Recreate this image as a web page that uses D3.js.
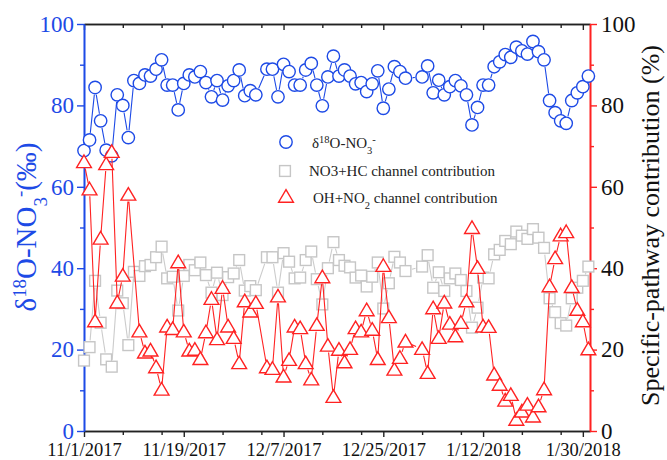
<!DOCTYPE html>
<html>
<head>
<meta charset="utf-8">
<script src="https://cdn.jsdelivr.net/npm/d3@7"></script>
<style>
  body { margin: 0; background: #fff; }
  svg { display: block; font-family: "Liberation Serif", "Times New Roman", serif; }
</style>
</head>
<body>
<svg id="chart" width="667" height="460"></svg>
<script>
// sample days (12/3, 12/30 and 12/31 have no sample)
const sampleDates = [
  "2017-11-01", "2017-11-02", "2017-11-03", "2017-11-04", "2017-11-05", "2017-11-06",
  "2017-11-07", "2017-11-08", "2017-11-09", "2017-11-10", "2017-11-11", "2017-11-12",
  "2017-11-13", "2017-11-14", "2017-11-15", "2017-11-16", "2017-11-17", "2017-11-18",
  "2017-11-19", "2017-11-20", "2017-11-21", "2017-11-22", "2017-11-23", "2017-11-24",
  "2017-11-25", "2017-11-26", "2017-11-27", "2017-11-28", "2017-11-29", "2017-11-30",
  "2017-12-01", "2017-12-02", "2017-12-04", "2017-12-05", "2017-12-06", "2017-12-07",
  "2017-12-08", "2017-12-09", "2017-12-10", "2017-12-11", "2017-12-12", "2017-12-13",
  "2017-12-14", "2017-12-15", "2017-12-16", "2017-12-17", "2017-12-18", "2017-12-19",
  "2017-12-20", "2017-12-21", "2017-12-22", "2017-12-23", "2017-12-24", "2017-12-25",
  "2017-12-26", "2017-12-27", "2017-12-28", "2017-12-29",
  "2018-01-01", "2018-01-02", "2018-01-03", "2018-01-04", "2018-01-05", "2018-01-06",
  "2018-01-07", "2018-01-08", "2018-01-09", "2018-01-10", "2018-01-11", "2018-01-12",
  "2018-01-13", "2018-01-14", "2018-01-15", "2018-01-16", "2018-01-17", "2018-01-18",
  "2018-01-19", "2018-01-20", "2018-01-21", "2018-01-22", "2018-01-23", "2018-01-24",
  "2018-01-25", "2018-01-26", "2018-01-27", "2018-01-28", "2018-01-29", "2018-01-30",
  "2018-01-31",
];

// δ18O-NO3- (‰), left axis
const d18O = [
  68.9, 71.5, 84.4, 76.2, 69.0, 67.6, 82.6, 80.0, 72.1, 86.1, 85.4, 87.5, 87.2, 88.9, 91.2,
  85.0, 85.0, 78.9, 85.4, 87.5, 87.0, 88.3, 85.6, 82.1, 86.1, 81.3, 84.8, 86.1, 88.7, 82.4,
  83.6, 82.6, 88.9, 88.9, 82.1, 90.1, 88.3, 85.0, 85.0, 88.7, 90.3, 85.0, 79.9, 87.0, 92.1,
  87.2, 88.7, 87.2, 85.3, 85.6, 83.4, 85.3, 88.5, 79.3, 84.0, 89.5, 88.3, 86.7,
  87.0, 89.7, 83.1, 86.2, 82.6, 84.6, 86.1, 84.8, 82.6, 75.2, 79.5, 85.0, 85.0, 89.5, 90.7,
  92.5, 91.8, 94.3, 93.4, 92.6, 95.7, 93.2, 91.2, 81.2, 78.2, 76.2, 75.6, 81.2, 83.1, 84.6,
  87.2,
];

// NO3+HC channel contribution (%), right axis
const no3hcShare = [
  17.3, 20.6, 36.9, 26.6, 17.6, 15.8, 34.5, 31.4, 21.1, 39.1, 38.1, 40.5, 40.8, 42.7, 45.3,
  37.5, 37.9, 29.6, 38.1, 40.8, 39.5, 41.4, 38.3, 34.0, 38.9, 33.4, 37.8, 38.7, 42.0, 34.5,
  35.6, 34.6, 42.7, 42.7, 34.0, 43.7, 41.6, 37.5, 37.7, 42.0, 44.1, 37.3, 31.1, 40.0, 46.4,
  42.0, 40.6, 40.2, 37.7, 38.2, 35.5, 37.9, 41.4, 30.1, 36.3, 42.8, 41.4, 39.3,
  40.4, 43.2, 35.2, 39.0, 34.4, 37.5, 38.7, 37.1, 34.4, 25.4, 30.3, 37.7, 37.5, 43.4, 44.5,
  46.7, 45.9, 49.0, 48.0, 47.2, 49.6, 47.5, 45.0, 32.6, 29.2, 26.5, 25.9, 32.6, 35.2, 36.9,
  40.4,
];

// OH+NO2 channel contribution (%), right axis
const ohno2Share = [
  66.0, 59.3, 26.9, 47.2, 65.5, 68.5, 31.5, 38.1, 58.0, null, 24.4, 19.2, 19.7, 15.6, 10.1,
  25.6, 25.0, 41.4, 24.4, 19.7, 19.9, 17.6, 24.2, 32.4, 22.5, 35.1, 25.6, 22.8, 16.6, 31.8,
  29.3, 31.4, 15.6, 15.2, 33.0, 13.3, 17.4, 25.6, 25.2, 16.6, 12.6, 26.0, 37.7, 20.9, 8.3,
  19.9, 16.8, 20.1, 25.2, 24.4, 29.6, 24.8, 17.6, 40.5, 27.9, 15.0, 17.9, 21.9,
  20.1, 14.2, 30.1, 22.8, 31.5, 26.3, 23.2, 26.5, 31.8, 49.8, 40.0, 25.6, 25.5, 13.8, 11.3,
  7.4, 8.8, 2.7, 4.7, 6.4, 3.5, 6.0, 10.2, 35.5, 42.4, 48.0, 48.8, 35.3, 29.7, 26.9,
  20.0,
];

const xTickDates = ["2017-11-01", "2017-11-19", "2017-12-07", "2017-12-25", "2018-01-12", "2018-01-30"];
const xTickLabels = ["11/1/2017", "11/19/2017", "12/7/2017", "12/25/2017", "1/12/2018", "1/30/2018"];
const xMinorDates = [
  "2017-11-08", "2017-11-15", "2017-11-26", "2017-12-03", "2017-12-14",
  "2017-12-21", "2018-01-01", "2018-01-08", "2018-01-19", "2018-01-26",
];
const yTicks = [0, 20, 40, 60, 80, 100];
const yMinorTicks = [10, 30, 50, 70, 90];

const BLUE = "#1d4ae6";
const RED = "#ff2222";
const GRAY = "#c6c6c6";

const margin = { top: 24, right: 77, bottom: 29, left: 84 };
const width = 667;
const height = 460;

const parseDate = d3.utcParse("%Y-%m-%d");
const svg = d3.select("#chart");

const x = d3
  .scaleUtc()
  .domain([parseDate("2017-11-01"), new Date(Date.UTC(2018, 0, 31, 7))])
  .range([margin.left, width - margin.right]);
const yLeft = d3.scaleLinear().domain([0, 100]).range([height - margin.bottom, margin.top]);
const yRight = d3.scaleLinear().domain([0, 100]).range([height - margin.bottom, margin.top]);

const plotBottom = height - margin.bottom;
const plotTop = margin.top;

function styleAxis(g, color, fontSize) {
  g.select(".domain").attr("stroke", color).attr("stroke-width", 1.6);
  g.selectAll(".tick line").attr("stroke", color).attr("stroke-width", 1.4);
  g.selectAll(".tick text").attr("font-size", fontSize).attr("font-family", "Liberation Serif");
}

// bottom axis
const bottomMinor = svg
  .append("g")
  .attr("transform", `translate(0,${plotBottom})`)
  .call(d3.axisBottom(x).tickValues(xMinorDates.map(parseDate)).tickSize(4).tickSizeOuter(0).tickFormat(""));
styleAxis(bottomMinor, "#222", 18);

const bottomAxis = svg
  .append("g")
  .attr("transform", `translate(0,${plotBottom})`)
  .call(
    d3
      .axisBottom(x)
      .tickValues(xTickDates.map(parseDate))
      .tickSize(6)
      .tickSizeOuter(0)
      .tickPadding(6)
      .tickFormat((d, i) => xTickLabels[i]),
  );
styleAxis(bottomAxis, "#222", 18.5);
bottomAxis.selectAll(".tick text").attr("fill", "#111");

// top axis, ticks pointing into the plot
const topMinor = svg
  .append("g")
  .attr("transform", `translate(0,${plotTop})`)
  .call(d3.axisBottom(x).tickValues(xMinorDates.map(parseDate)).tickSize(4).tickSizeOuter(0).tickFormat(""));
styleAxis(topMinor, "#222", 18);
const topMajor = svg
  .append("g")
  .attr("transform", `translate(0,${plotTop})`)
  .call(d3.axisBottom(x).tickValues(xTickDates.map(parseDate)).tickSize(6).tickSizeOuter(0).tickFormat(""));
styleAxis(topMajor, "#222", 18);

// left axis (blue)
const leftMinor = svg
  .append("g")
  .attr("transform", `translate(${margin.left},0)`)
  .call(d3.axisLeft(yLeft).tickValues(yMinorTicks).tickSize(4).tickSizeOuter(0).tickFormat(""));
styleAxis(leftMinor, BLUE, 23);
const leftAxis = svg
  .append("g")
  .attr("transform", `translate(${margin.left},0)`)
  .call(d3.axisLeft(yLeft).tickValues(yTicks).tickSize(7).tickSizeOuter(0).tickPadding(3));
styleAxis(leftAxis, BLUE, 23);
leftAxis.selectAll(".tick text").attr("fill", BLUE);

// right axis (red)
const rightX = width - margin.right;
const rightMinor = svg
  .append("g")
  .attr("transform", `translate(${rightX},0)`)
  .call(d3.axisRight(yRight).tickValues(yMinorTicks).tickSize(4).tickSizeOuter(0).tickFormat(""));
styleAxis(rightMinor, RED, 23);
const rightAxis = svg
  .append("g")
  .attr("transform", `translate(${rightX},0)`)
  .call(d3.axisRight(yRight).tickValues(yTicks).tickSize(7).tickSizeOuter(0).tickPadding(4));
styleAxis(rightAxis, RED, 23);
rightAxis.selectAll(".tick text").attr("fill", "#111");

// axis titles
const leftTitle = svg
  .append("text")
  .attr("transform", `translate(36,227) rotate(-90)`)
  .attr("text-anchor", "middle")
  .attr("font-size", 29)
  .attr("fill", BLUE);
leftTitle.append("tspan").text("δ");
leftTitle.append("tspan").attr("baseline-shift", "super").attr("font-size", "65%").text("18");
leftTitle.append("tspan").text("O-NO");
leftTitle.append("tspan").attr("baseline-shift", "sub").attr("font-size", "65%").text("3");
leftTitle.append("tspan").attr("baseline-shift", "super").attr("font-size", "65%").text("-");
leftTitle.append("tspan").text("(‰)");

svg
  .append("text")
  .attr("transform", `translate(659,${(plotTop + plotBottom) / 2 - 2}) rotate(-90)`)
  .attr("text-anchor", "middle")
  .attr("font-size", 26)
  .attr("fill", "#111")
  .text("Specific-pathway contribution (%)");

// markers and connecting lines with a small gap round each symbol
function gapSegments(points, gap) {
  const segments = [];
  for (let i = 1; i < points.length; i += 1) {
    const [x1, y1] = points[i - 1];
    const [x2, y2] = points[i];
    const len = Math.hypot(x2 - x1, y2 - y1);
    if (len <= 2 * gap) continue;
    const ux = (x2 - x1) / len;
    const uy = (y2 - y1) / len;
    segments.push(`M${x1 + ux * gap},${y1 + uy * gap}L${x2 - ux * gap},${y2 - uy * gap}`);
  }
  return segments.join("");
}

function seriesPoints(values, yScale) {
  return sampleDates
    .map((date, i) => ({ date: parseDate(date), value: values[i] }))
    .filter((d) => d.value != null)
    .map((d) => [x(d.date), yScale(d.value)]);
}

const circleSymbol = (g) => g.append("circle").attr("r", 6.2);
const squareSymbol = (g) => g.append("rect").attr("x", -5.4).attr("y", -5.4).attr("width", 10.8).attr("height", 10.8);
const triangleSymbol = (g) => g.append("path").attr("d", "M0,-7.4L7.4,5.2L-7.4,5.2Z");

const series = [
  { values: d18O, scale: yLeft, color: BLUE, lineColor: BLUE, symbol: circleSymbol, gap: 7.2 },
  { values: no3hcShare, scale: yRight, color: GRAY, lineColor: "#cccccc", symbol: squareSymbol, gap: 6.8 },
  { values: ohno2Share, scale: yRight, color: RED, lineColor: RED, symbol: triangleSymbol, gap: 6.6 },
];

series.forEach((s) => {
  const points = seriesPoints(s.values, s.scale);
  svg
    .append("path")
    .attr("d", gapSegments(points, s.gap))
    .attr("fill", "none")
    .attr("stroke", s.lineColor)
    .attr("stroke-width", 1.1);

  svg
    .append("g")
    .selectAll("g")
    .data(points)
    .join("g")
    .attr("transform", (p) => `translate(${p[0]},${p[1]})`)
    .each(function drawSymbol() {
      s.symbol(d3.select(this));
    })
    .selectAll("*")
    .attr("fill", "#fff")
    .attr("stroke", s.color)
    .attr("stroke-width", 1.4);
});

// legend
const legend = svg.append("g").attr("font-size", 15).attr("fill", "#222");
const legendItems = [
  { symbol: circleSymbol, color: BLUE, sx: 286, sy: 142 },
  { symbol: squareSymbol, color: GRAY, sx: 285, sy: 171 },
  { symbol: triangleSymbol, color: RED, sx: 286, sy: 197 },
];
legendItems.forEach((item) => {
  const g = legend.append("g").attr("transform", `translate(${item.sx},${item.sy})`);
  item.symbol(g).attr("fill", "#fff").attr("stroke", item.color).attr("stroke-width", 1.4);
});

const label1 = legend.append("text").attr("x", 312).attr("y", 148);
label1.append("tspan").text("δ");
label1.append("tspan").attr("baseline-shift", "super").attr("font-size", "70%").text("18");
label1.append("tspan").text("O-NO");
label1.append("tspan").attr("baseline-shift", "sub").attr("font-size", "70%").text("3");
label1.append("tspan").attr("baseline-shift", "super").attr("font-size", "70%").text("-");

legend.append("text").attr("x", 309).attr("y", 176).text("NO3+HC channel contribution");

const label3 = legend.append("text").attr("x", 313).attr("y", 203);
label3.append("tspan").text("OH+NO");
label3.append("tspan").attr("baseline-shift", "sub").attr("font-size", "70%").text("2");
label3.append("tspan").text(" channel contribution");
</script>
</body>
</html>
